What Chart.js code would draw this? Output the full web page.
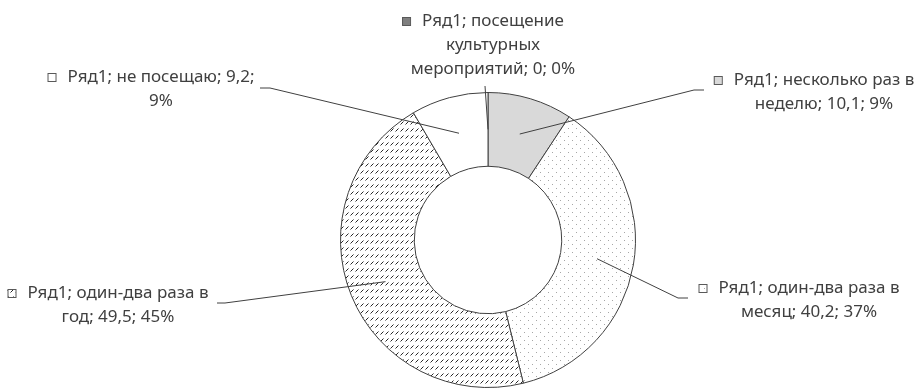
<!DOCTYPE html>
<html lang="ru">
<head>
  <meta charset="UTF-8" />
  <title>Ряд1</title>
  <script src="https://cdn.jsdelivr.net/npm/chart.js"></script>
  <style>
    html, body {
      margin: 0;
      padding: 0;
      background: #ffffff;
      overflow: hidden;
    }
    #wrap {
      width: 915px;
      height: 388px;
    }
  </style>
</head>
<body>
  <div id="wrap">
    <canvas id="donut" width="915" height="388"></canvas>
  </div>

  <script>
    // data
    const seriesName = 'Ряд1';
    const categories = [
      'посещение культурных мероприятий',
      'несколько раз в неделю',
      'один-два раза в месяц',
      'один-два раза в год',
      'не посещаю'
    ];
    const values = [0, 10.1, 40.2, 49.5, 9.2];
    const percentLabels = ['0%', '9%', '37%', '45%', '9%'];

    const FONT = '17px "Noto Sans", sans-serif';
    const INK = '#404040';

    function makePattern(w, h, draw) {
      const c = document.createElement('canvas');
      c.width = w;
      c.height = h;
      const g = c.getContext('2d');
      g.fillStyle = '#ffffff';
      g.fillRect(0, 0, w, h);
      draw(g);
      return document.getElementById('donut').getContext('2d').createPattern(c, 'repeat');
    }

    // small grey dots
    const dots = makePattern(8, 8, g => {
      g.fillStyle = '#a6a6a6';
      g.fillRect(0, 0, 1, 1);
      g.fillRect(4, 4, 1, 1);
    });
    // short diagonal dashes
    const dashes = makePattern(5, 7, g => {
      g.strokeStyle = '#262626';
      g.lineWidth = 1;
      g.beginPath();
      g.moveTo(0.5, 5.5);
      g.lineTo(3.5, 2.5);
      g.stroke();
    });

    const fills = ['#7f7f7f', '#d9d9d9', dots, dashes, '#ffffff'];

    // label boxes: centre x of text, middle y of first line, wrap width, leader stub
    const labelBoxes = [
      { cx: 493, y: 21, w: 185, end: [485, 86], stub: null },
      { cx: 824, y: 80, w: 220, end: [694, 90], stub: [704, 90] },
      { cx: 809, y: 288, w: 220, end: [678, 298], stub: [688, 298] },
      { cx: 118, y: 293, w: 215, end: [225, 303], stub: [217, 303] },
      { cx: 161, y: 77, w: 215, end: [270, 88], stub: [260, 88] }
    ];
    const lineGap = 24;
    const markerW = 20;

    function fmt(v) {
      return String(v).replace('.', ',');
    }

    function wrapText(ctx, text, maxW) {
      const words = text.split(' ');
      const lines = [];
      let cur = '';
      words.forEach(word => {
        const test = cur ? cur + ' ' + word : word;
        const extra = lines.length === 0 ? markerW : 0;
        if (cur && ctx.measureText(test).width + extra > maxW) {
          lines.push(cur);
          cur = word;
        } else {
          cur = test;
        }
      });
      if (cur) lines.push(cur);
      return lines;
    }

    const calloutPlugin = {
      id: 'callouts',
      afterDraw(chart) {
        const ctx = chart.ctx;
        const meta = chart.getDatasetMeta(0);
        ctx.save();
        ctx.font = FONT;
        ctx.textBaseline = 'middle';
        ctx.textAlign = 'center';

        meta.data.forEach((arc, i) => {
          const p = arc.getProps(['x', 'y', 'startAngle', 'endAngle', 'innerRadius', 'outerRadius'], true);
          const mid = (p.startAngle + p.endAngle) / 2;
          const r = (p.innerRadius + p.outerRadius) / 2;
          const ax = p.x + Math.cos(mid) * r;
          const ay = p.y + Math.sin(mid) * r;
          const box = labelBoxes[i];

          // leader line
          ctx.strokeStyle = INK;
          ctx.lineWidth = 1;
          ctx.beginPath();
          ctx.moveTo(ax, ay);
          ctx.lineTo(box.end[0], box.end[1]);
          if (box.stub) ctx.lineTo(box.stub[0], box.stub[1]);
          ctx.stroke();

          // text
          const text = `${seriesName}; ${categories[i]}; ${fmt(values[i])}; ${percentLabels[i]}`;
          const lines = wrapText(ctx, text, box.w);
          ctx.fillStyle = INK;
          lines.forEach((ln, k) => {
            ctx.fillText(ln, box.cx, box.y + k * lineGap);
          });

          // legend key in front of first line
          const w0 = ctx.measureText(lines[0]).width;
          const kx = box.cx - w0 / 2 - 20;
          const ky = box.y - 4;
          ctx.fillStyle = fills[i];
          ctx.fillRect(kx, ky, 8, 8);
          ctx.strokeStyle = '#595959';
          ctx.strokeRect(kx + 0.5, ky + 0.5, 8, 8);
        });
        ctx.restore();
      }
    };

    new Chart(document.getElementById('donut'), {
      type: 'doughnut',
      data: {
        labels: categories,
        datasets: [{
          label: seriesName,
          data: values,
          backgroundColor: fills,
          borderColor: INK,
          borderWidth: 1
        }]
      },
      options: {
        responsive: false,
        animation: false,
        cutout: '50%',
        layout: {
          padding: { left: 338, right: 277, top: 92, bottom: -4 }
        },
        plugins: {
          legend: { display: false },
          tooltip: { enabled: false }
        }
      },
      plugins: [calloutPlugin]
    });
  </script>
</body>
</html>
